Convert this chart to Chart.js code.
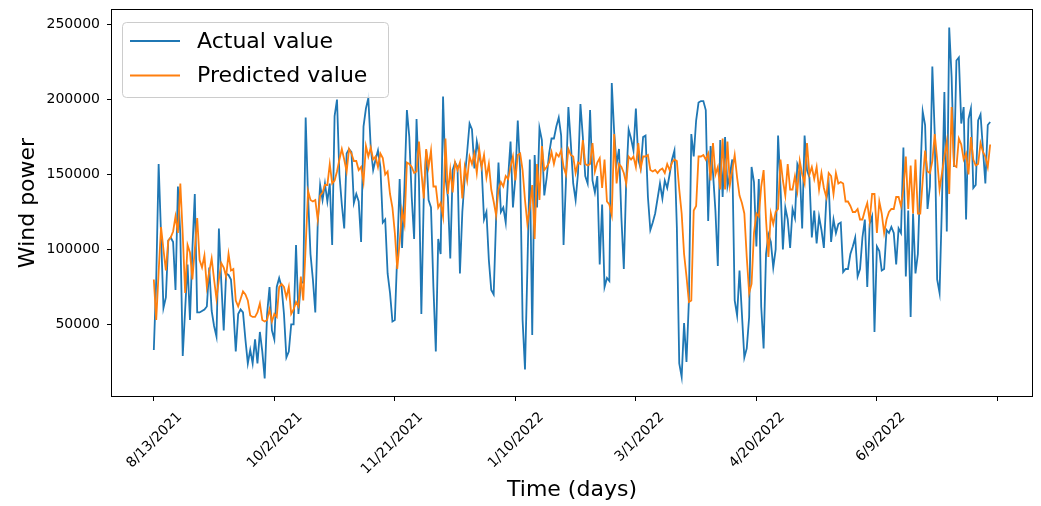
<!DOCTYPE html>
<html>
<head>
<meta charset="utf-8">
<script src="https://cdn.jsdelivr.net/npm/chart.js@4.4.0/dist/chart.umd.min.js"></script>
<style>
  body { margin: 0; background: #fff; }
  #wrap { width: 1041px; height: 506px; }
</style>
</head>
<body>
<div id="wrap"><canvas id="myChart" width="1041" height="506"></canvas></div>
<script>
// daily values, day 0 = 8/13/2021
const actual = [
  33000, 80000, 157000, 110000, 61000, 68000, 106000, 108000, 105000, 73000,
  142000, 110000, 29000, 60000, 90000, 53000, 100000, 137000, 58000, 58000,
  59000, 60000, 62000, 88000, 59000, 49000, 42000, 114000, 78000, 46000,
  84000, 83000, 80000, 60000, 32000, 57000, 60000, 58000, 40000, 24000,
  33000, 24000, 40000, 24000, 45000, 32000, 14000, 57000, 75000, 46000,
  40000, 75000, 81000, 75000, 57000, 28000, 32000, 50000, 50000, 103000,
  57000, 78000, 78000, 188000, 135000, 97000, 80000, 58000, 117000, 143000,
  133000, 144000, 132000, 144000, 103000, 189000, 200000, 150000, 130000, 114000,
  164000, 167000, 165000, 131000, 137000, 132000, 105000, 182000, 194000, 201000,
  168000, 153000, 160000, 166000, 155000, 118000, 120000, 84000, 71000, 52000,
  53000, 97000, 147000, 101000, 142000, 193000, 175000, 135000, 107000, 187000,
  146000, 57000, 135000, 166000, 133000, 128000, 75000, 32000, 107000, 97000,
  202000, 148000, 135000, 94000, 153000, 158000, 155000, 84000, 125000, 148000,
  165000, 184000, 180000, 154000, 172000, 163000, 155000, 120000, 125000, 93000,
  73000, 70000, 120000, 158000, 125000, 128000, 118000, 148000, 172000, 128000,
  148000, 186000, 152000, 53000, 20000, 88000, 160000, 43000, 163000, 128000,
  181000, 173000, 136000, 148000, 164000, 174000, 174000, 182000, 188000, 176000,
  103000, 146000, 195000, 171000, 144000, 133000, 151000, 197000, 175000, 149000,
  144000, 193000, 146000, 138000, 149000, 90000, 130000, 75000, 81000, 79000,
  211000, 178000, 157000, 167000, 121000, 87000, 146000, 180000, 174000, 166000,
  194000, 160000, 154000, 175000, 176000, 135000, 113000, 118000, 124000, 134000,
  144000, 134000, 146000, 141000, 150000, 160000, 166000, 115000, 24000, 15000,
  51000, 25000, 66000, 177000, 162000, 186000, 198000, 199000, 199000, 193000,
  119000, 169000, 151000, 126000, 89000, 173000, 135000, 175000, 142000, 150000,
  160000, 66000, 56000, 86000, 57000, 28000, 34000, 55000, 155000, 145000,
  102000, 147000, 62000, 34000, 97000, 110000, 105000, 88000, 100000, 176000,
  142000, 100000, 128000, 120000, 101000, 127000, 121000, 157000, 153000, 114000,
  176000, 153000, 148000, 108000, 126000, 104000, 122000, 113000, 101000, 133000,
  143000, 105000, 120000, 111000, 117000, 118000, 85000, 87000, 87000, 97000,
  102000, 108000, 82000, 87000, 108000, 120000, 75000, 117000, 122000, 45000,
  102000, 99000, 86000, 87000, 113000, 111000, 115000, 111000, 90000, 114000,
  111000, 168000, 82000, 126000, 55000, 124000, 84000, 97000, 148000, 192000,
  183000, 127000, 142000, 222000, 177000, 80000, 71000, 131000, 205000, 112000,
  248000, 215000, 155000, 226000, 228000, 184000, 195000, 120000, 187000, 194000,
  141000, 143000, 186000, 190000, 167000, 144000, 183000, 185000
]

const predicted = [
  80000, 53000, 85000, 115000, 100000, 86000, 106000, 108000, 112000, 122000,
  111000, 144000, 110000, 71000, 103000, 98000, 80000, 100000, 121000, 93000,
  88000, 96000, 75000, 85000, 94000, 80000, 67000, 80000, 91000, 88000,
  82000, 97000, 86000, 87000, 66000, 62000, 67000, 72000, 70000, 66000,
  56000, 55000, 55000, 58000, 64000, 53000, 52000, 53000, 60000, 52000,
  57000, 55000, 75000, 77000, 75000, 68000, 75000, 57000, 60000, 65000,
  62000, 82000, 66000, 102000, 139000, 133000, 132000, 133000, 120000, 136000,
  138000, 143000, 143000, 157000, 144000, 146000, 152000, 160000, 167000, 160000,
  152000, 167000, 164000, 159000, 159000, 153000, 155000, 145000, 169000, 162000,
  168000, 160000, 162000, 155000, 164000, 161000, 150000, 152000, 137000, 128000,
  111000, 87000, 105000, 126000, 117000, 158000, 157000, 155000, 151000, 152000,
  172000, 152000, 134000, 167000, 155000, 166000, 142000, 142000, 128000, 131000,
  122000, 174000, 137000, 153000, 138000, 158000, 153000, 158000, 134000, 155000,
  146000, 162000, 157000, 164000, 151000, 167000, 155000, 163000, 148000, 157000,
  140000, 132000, 123000, 140000, 145000, 142000, 149000, 147000, 155000, 162000,
  146000, 163000, 164000, 153000, 133000, 117000, 128000, 143000, 107000, 157000,
  133000, 169000, 153000, 155000, 158000, 165000, 157000, 164000, 162000, 166000,
  155000, 150000, 167000, 163000, 162000, 151000, 158000, 157000, 173000, 157000,
  156000, 157000, 171000, 152000, 158000, 161000, 141000, 160000, 132000, 130000,
  123000, 177000, 144000, 157000, 155000, 151000, 144000, 162000, 160000, 162000,
  155000, 171000, 154000, 162000, 162000, 163000, 153000, 152000, 153000, 151000,
  153000, 154000, 151000, 157000, 153000, 158000, 160000, 159000, 140000, 124000,
  97000, 82000, 65000, 66000, 126000, 129000, 162000, 162000, 163000, 160000,
  164000, 146000, 171000, 150000, 155000, 140000, 174000, 140000, 172000, 143000,
  153000, 163000, 148000, 136000, 131000, 124000, 95000, 71000, 77000, 111000,
  124000, 122000, 142000, 153000, 120000, 95000, 124000, 117000, 125000, 127000,
  160000, 146000, 136000, 157000, 140000, 140000, 149000, 139000, 159000, 150000,
  144000, 171000, 150000, 155000, 147000, 155000, 140000, 151000, 141000, 135000,
  151000, 149000, 137000, 151000, 144000, 145000, 144000, 132000, 132000, 129000,
  125000, 125000, 127000, 120000, 120000, 126000, 131000, 119000, 137000, 137000,
  111000, 132000, 124000, 111000, 120000, 125000, 127000, 127000, 135000, 135000,
  129000, 140000, 162000, 127000, 156000, 124000, 160000, 124000, 124000, 146000,
  166000, 152000, 151000, 159000, 177000, 160000, 140000, 151000, 162000, 172000,
  137000, 195000, 156000, 155000, 174000, 170000, 160000, 164000, 150000, 175000,
  160000, 156000, 157000, 171000, 165000, 162000, 155000, 170000
]

const tickDays = [0, 50, 100, 150, 200, 250, 300, 350]
const tickLabels = ['8/13/2021', '10/2/2021', '11/21/2021', '1/10/2022', '3/1/2022', '4/20/2022', '6/9/2022', '']
const yTicks = [50000, 100000, 150000, 200000, 250000]

const days = actual.map((v, i) => i)

Chart.defaults.font.family = '"DejaVu Sans", sans-serif'
Chart.defaults.color = '#000'

// matplotlib style box around the plot
const frame = {
  id: 'frame',
  afterDraw(chart) {
    const { ctx, chartArea: a } = chart
    ctx.save()
    ctx.strokeStyle = '#000'
    ctx.lineWidth = 1
    ctx.strokeRect(Math.round(a.left) - 0.5, Math.round(a.top) - 0.5, Math.round(a.right - a.left) + 1, Math.round(a.bottom - a.top) + 1)
    ctx.restore()
  }
}

// legend drawn inside the plot, upper left
const legendBox = {
  id: 'legendBox',
  afterDraw(chart) {
    const { ctx, chartArea } = chart
    const x = chartArea.left + 10
    const y = chartArea.top + 12
    const w = 266
    const h = 75
    ctx.save()
    ctx.beginPath()
    if (ctx.roundRect) ctx.roundRect(x + 0.5, y + 0.5, w, h, 4)
    else ctx.rect(x + 0.5, y + 0.5, w, h)
    ctx.fillStyle = 'rgba(255,255,255,0.8)'
    ctx.fill()
    ctx.strokeStyle = '#cccccc'
    ctx.lineWidth = 1
    ctx.stroke()
    ctx.font = '22px "DejaVu Sans"'
    ctx.textBaseline = 'middle'
    chart.data.datasets.forEach((ds, i) => {
      const ly = y + 19 + i * 34.5
      ctx.strokeStyle = ds.borderColor
      ctx.lineWidth = 2
      ctx.beginPath()
      ctx.moveTo(x + 8, ly)
      ctx.lineTo(x + 58, ly)
      ctx.stroke()
      ctx.fillStyle = '#000'
      ctx.fillText(ds.label, x + 75, ly + 1)
    })
    ctx.restore()
  }
}

const data = {
  datasets: [
    {
      label: 'Actual value',
      data: days.map(d => ({ x: d, y: actual[d] })),
      borderColor: '#1f77b4',
      backgroundColor: '#1f77b4',
      borderWidth: 1.8,
      pointRadius: 0,
      order: 1
    },
    {
      label: 'Predicted value',
      data: days.map(d => ({ x: d, y: predicted[d] })),
      borderColor: '#ff7f0e',
      backgroundColor: '#ff7f0e',
      borderWidth: 1.8,
      pointRadius: 0,
      order: 0
    }
  ]
}

const config = {
  type: 'line',
  data: data,
  options: {
    responsive: false,
    animation: false,
    layout: { padding: { top: 10, right: 9, left: 0, bottom: 0 } },
    plugins: {
      legend: { display: false },
      tooltip: { enabled: false }
    },
    scales: {
      x: {
        type: 'linear',
        min: -17.35,
        max: 364.35,
        afterBuildTicks: s => { s.ticks = tickDays.map(v => ({ value: v })) },
        afterFit: s => { s.height = 110 },
        grid: { drawOnChartArea: false, tickLength: 5, tickColor: '#000', tickWidth: 1 },
        border: { display: false },
        ticks: {
          callback: (v, i) => tickLabels[i],
          minRotation: 45,
          maxRotation: 45,
          autoSkip: false,
          labelOffset: 26,
          padding: 8,
          font: { size: 14 }
        },
        title: { display: true, text: 'Time (days)', font: { size: 22 }, padding: { top: 0, bottom: 3 } }
      },
      y: {
        min: 2300,
        max: 259700,
        afterBuildTicks: s => { s.ticks = yTicks.map(v => ({ value: v })) },
        afterFit: s => {
          s.width = 112
          s.paddingTop = 0
          s.paddingBottom = 0
        },
        grid: { drawOnChartArea: false, tickLength: 5, tickColor: '#000', tickWidth: 1 },
        border: { display: false },
        ticks: {
          callback: v => String(v),
          padding: 7,
          font: { size: 14 }
        },
        title: { display: true, text: 'Wind power', font: { size: 22 }, padding: { top: 15, bottom: 0 } }
      }
    }
  },
  plugins: [frame, legendBox]
}

const myChart = new Chart(document.getElementById('myChart'), config)
</script>
</body>
</html>
